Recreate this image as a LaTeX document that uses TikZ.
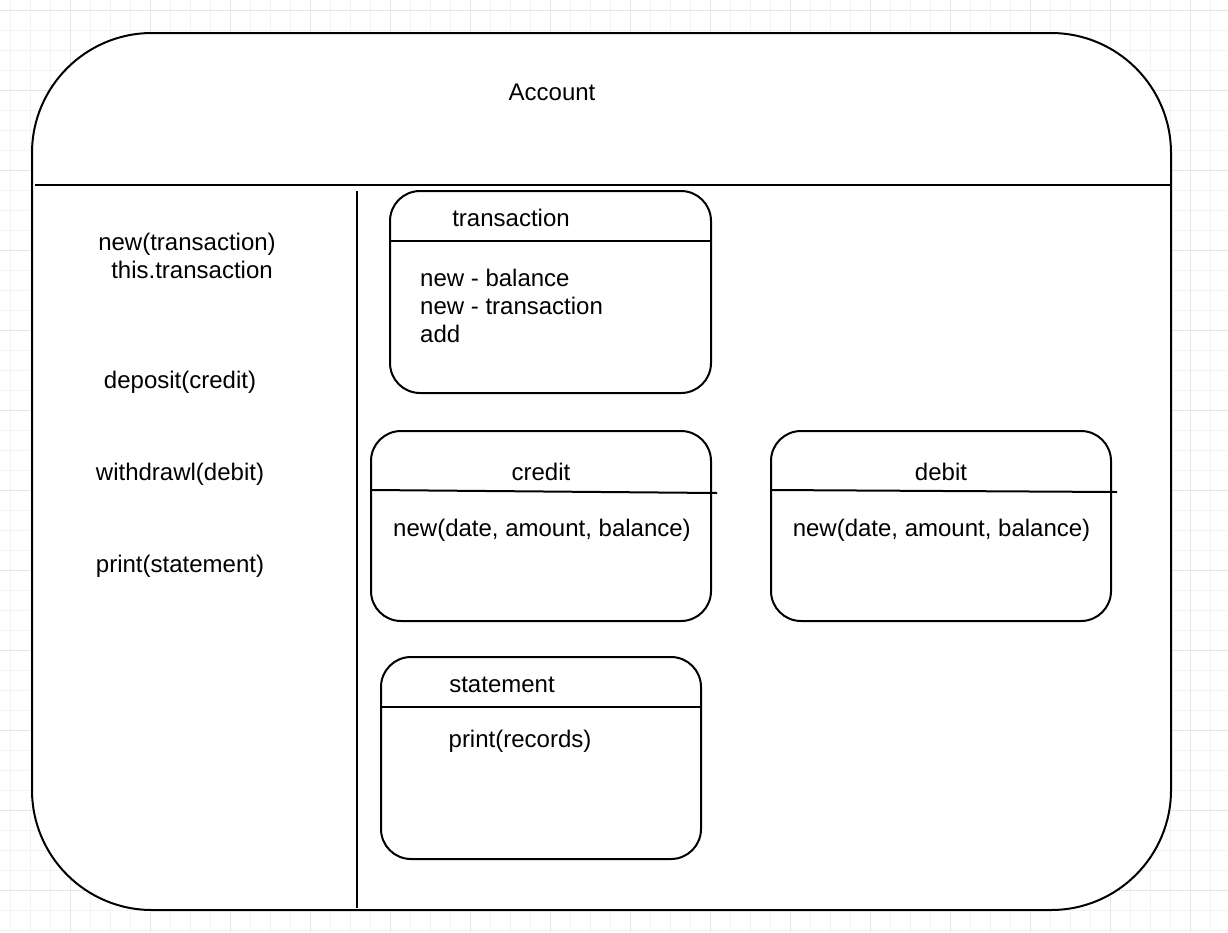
\documentclass[tikz,border=0pt]{standalone}
\usepackage{fontspec}
\setmainfont{Liberation Sans}
\definecolor{gridminor}{HTML}{F3F3F3}
\definecolor{gridmajor}{HTML}{E6E6E6}
\begin{document}
\begin{tikzpicture}[x=1pt,y=-1pt,
  lbl/.style={inner sep=0pt,anchor=base,font=\fontsize{24}{28}\selectfont},
  lbll/.style={inner sep=0pt,anchor=base west,font=\fontsize{24}{28}\selectfont},
  box/.style={draw,line width=2pt,rounded corners=30pt,fill=white,inner sep=0pt},
  sep/.style={line width=2pt}]
\useasboundingbox (0,0) rectangle (1228,932);
\fill[white] (0,0) rectangle (1228,932);
% grid
\foreach \x in {10,30,...,1220} \draw[gridminor,line width=1pt] (\x,0) -- (\x,932);
\foreach \y in {10,30,...,930} \draw[gridminor,line width=1pt] (0,\y) -- (1228,\y);
\foreach \x in {70,150,...,1220} \draw[gridmajor,line width=1pt] (\x,0) -- (\x,932);
\foreach \y in {10,90,...,930} \draw[gridmajor,line width=1pt] (0,\y) -- (1228,\y);
% outer container
\node[box,rounded corners=120pt,minimum width=1139pt,minimum height=877pt] (acc) at (601.5,471.5) {};
\coordinate (hl) at (35,185);
\coordinate (hr) at (1171,185);
\draw[sep] (hl) -- (hr);
\coordinate (vt) at (357,191);
\coordinate (vb) at (357,908);
\draw[sep] (vt) -- (vb);
\node[lbl] (acct) at (552,100) {Account};
% left methods
\node[lbl] (m1) at (187,250.5) {new(transaction)};
\node[lbl] (m2) at (192,278.5) {this.transaction};
\node[lbl] (m3) at (180,388.5) {deposit(credit)};
\node[lbl] (m4) at (180,480.5) {withdrawl(debit)};
\node[lbl] (m5) at (180,572.5) {print(statement)};
% transaction
\node[box,minimum width=321pt,minimum height=202pt] (trans) at (550.5,292) {};
\coordinate (t1) at (391,241);
\coordinate (t2) at (710,241);
\draw[sep] (t1) -- (t2);
\node[lbl] (transt) at (511,226.5) {transaction};
\node[lbll] (tb1) at (420,286.5) {new - balance};
\node[lbll] (tb2) at (420,314.5) {new - transaction};
\node[lbll] (tb3) at (420,342.5) {add};
% credit
\node[box,minimum width=340pt,minimum height=190pt] (credit) at (541,526) {};
\coordinate (c1) at (372,490);
\coordinate (c2) at (717,493);
\draw[sep] (c1) -- (c2);
\node[lbl] (creditt) at (541,480.5) {credit};
\node[lbl] (creditb) at (542,536.5) {new(date, amount, balance)};
% debit
\node[box,minimum width=340pt,minimum height=190pt] (debit) at (941,526) {};
\coordinate (d1) at (772,490);
\coordinate (d2) at (1117,492);
\draw[sep] (d1) -- (d2);
\node[lbl] (debitt) at (941,480.5) {debit};
\node[lbl] (debitb) at (941.5,536.5) {new(date, amount, balance)};
% statement
\node[box,minimum width=320pt,minimum height=202pt] (stmt) at (541,758) {};
\coordinate (s1) at (382,707);
\coordinate (s2) at (700,707);
\draw[sep] (s1) -- (s2);
\node[lbl] (stmtt) at (502,692.5) {statement};
\node[lbl] (stmtb) at (520,747.5) {print(records)};
\end{tikzpicture}
\end{document}
